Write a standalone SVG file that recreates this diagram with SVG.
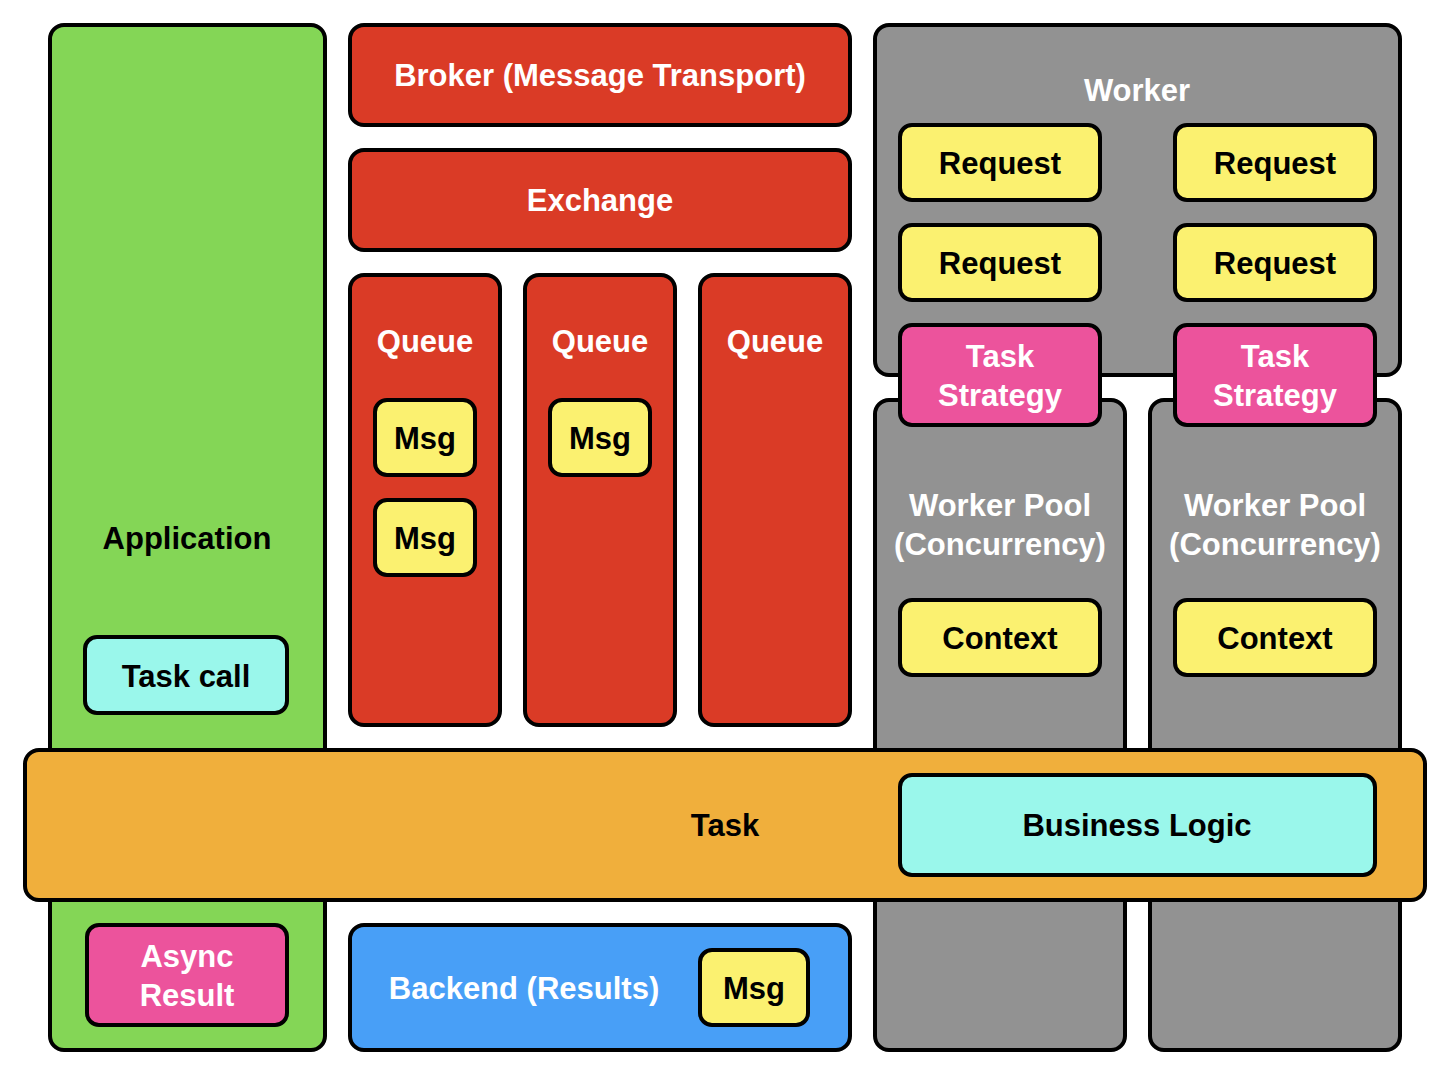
<svg xmlns="http://www.w3.org/2000/svg" width="1450" height="1080" viewBox="0 0 1450 1080">
<style>
rect{stroke:#000;stroke-width:4}
text{font-family:"Liberation Sans",Arial,sans-serif;font-weight:bold;font-size:31px;text-anchor:middle;dominant-baseline:central}
.w{fill:#fff}
.k{fill:#000}
.green{fill:#84D656}
.red{fill:#DA3B26}
.gray{fill:#929292}
.yel{fill:#FBF170}
.pink{fill:#EC539C}
.cyan{fill:#9AF7EB}
.orange{fill:#F0AF3C}
.blue{fill:#489FF7}
</style>
<rect width="1450" height="1080" fill="#fff" style="stroke:none"/>
<g id="application"><rect class="green" x="50" y="25" width="275" height="1025" rx="14"/><text class="k" x="187" y="538">Application</text></g>
<g id="task-call"><rect class="cyan" x="85" y="637" width="202" height="76" rx="12"/><text class="k" x="186" y="676">Task call</text></g>
<g id="async-result"><rect class="pink" x="87" y="925" width="200" height="100" rx="12"/><text class="w" x="187" y="956">Async</text><text class="w" x="187" y="995">Result</text></g>
<g id="broker"><rect class="red" x="350" y="25" width="500" height="100" rx="14"/><text class="w" x="600" y="75">Broker (Message Transport)</text></g>
<g id="exchange"><rect class="red" x="350" y="150" width="500" height="100" rx="14"/><text class="w" x="600" y="200">Exchange</text></g>
<g id="queue1"><rect class="red" x="350" y="275" width="150" height="450" rx="14"/><text class="w" x="425" y="341">Queue</text></g>
<g id="queue2"><rect class="red" x="525" y="275" width="150" height="450" rx="14"/><text class="w" x="600" y="341">Queue</text></g>
<g id="queue3"><rect class="red" x="700" y="275" width="150" height="450" rx="14"/><text class="w" x="775" y="341">Queue</text></g>
<g id="msg1"><rect class="yel" x="375" y="400" width="100" height="75" rx="12"/><text class="k" x="425" y="438">Msg</text></g>
<g id="msg2"><rect class="yel" x="375" y="500" width="100" height="75" rx="12"/><text class="k" x="425" y="538">Msg</text></g>
<g id="msg3"><rect class="yel" x="550" y="400" width="100" height="75" rx="12"/><text class="k" x="600" y="438">Msg</text></g>
<g id="backend"><rect class="blue" x="350" y="925" width="500" height="125" rx="14"/><text class="w" x="524" y="988">Backend (Results)</text></g>
<g id="msg4"><rect class="yel" x="700" y="950" width="108" height="75" rx="12"/><text class="k" x="754" y="988">Msg</text></g>
<g id="worker"><rect class="gray" x="875" y="25" width="525" height="350" rx="14"/><text class="w" x="1137" y="90">Worker</text></g>
<g id="request1"><rect class="yel" x="900" y="125" width="200" height="75" rx="12"/><text class="k" x="1000" y="163">Request</text></g>
<g id="request2"><rect class="yel" x="1175" y="125" width="200" height="75" rx="12"/><text class="k" x="1275" y="163">Request</text></g>
<g id="request3"><rect class="yel" x="900" y="225" width="200" height="75" rx="12"/><text class="k" x="1000" y="263">Request</text></g>
<g id="request4"><rect class="yel" x="1175" y="225" width="200" height="75" rx="12"/><text class="k" x="1275" y="263">Request</text></g>
<g id="pool1"><rect class="gray" x="875" y="400" width="250" height="650" rx="14"/><text class="w" x="1000" y="505">Worker Pool</text><text class="w" x="1000" y="544">(Concurrency)</text></g>
<g id="pool2"><rect class="gray" x="1150" y="400" width="250" height="650" rx="14"/><text class="w" x="1275" y="505">Worker Pool</text><text class="w" x="1275" y="544">(Concurrency)</text></g>
<g id="strategy1"><rect class="pink" x="900" y="325" width="200" height="100" rx="12"/><text class="w" x="1000" y="356">Task</text><text class="w" x="1000" y="395">Strategy</text></g>
<g id="strategy2"><rect class="pink" x="1175" y="325" width="200" height="100" rx="12"/><text class="w" x="1275" y="356">Task</text><text class="w" x="1275" y="395">Strategy</text></g>
<g id="context1"><rect class="yel" x="900" y="600" width="200" height="75" rx="12"/><text class="k" x="1000" y="638">Context</text></g>
<g id="context2"><rect class="yel" x="1175" y="600" width="200" height="75" rx="12"/><text class="k" x="1275" y="638">Context</text></g>
<g id="task"><rect class="orange" x="25" y="750" width="1400" height="150" rx="14"/><text class="k" x="725" y="825">Task</text></g>
<g id="business-logic"><rect class="cyan" x="900" y="775" width="475" height="100" rx="12"/><text class="k" x="1137" y="825">Business Logic</text></g>
<g id="connectors"></g>
</svg>
